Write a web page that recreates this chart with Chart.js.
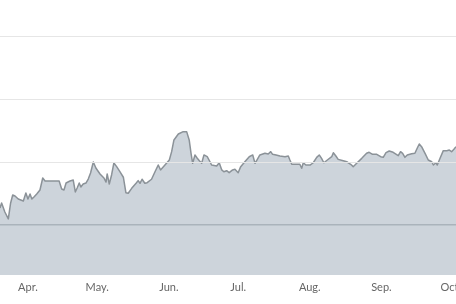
<!DOCTYPE html>
<html>
<head>
<meta charset="utf-8">
<script src="https://cdn.jsdelivr.net/npm/chart.js@4/dist/chart.umd.min.js"></script>
<style>
  html, body { margin: 0; padding: 0; background: #fff; }
  #wrap { width: 456px; height: 304px; }
</style>
</head>
<body>
<div id="wrap"><canvas id="area"></canvas></div>
<script>
// days counted from Apr 1
const days = [
  -12.1, -11.4, -10.0, -8.5, -7.5, -6.6, -5.6, -4.2, -2.0, -0.9,
  0, 0.9, 1.7, 2.6, 3.8, 5.2, 6.4, 7.4, 9.5, 12.4,
  13.5, 14.6, 15.6, 16.5, 18.2, 19.6, 20.5, 21.3, 22.2, 22.9,
  23.9, 25.1, 26.1, 27.1, 28.3, 29.4, 31.2, 32.9, 33.8, 34.3,
  35.2, 36.2, 37.2, 38.4, 39.8, 41.3, 42.4, 43.4, 44.9, 46.8,
  47.7, 48.5, 49.4, 50.6, 51.6, 53.5, 55.0, 56.4, 57.4, 59.3,
  61.2, 62.2, 63.2, 65.1, 67.2, 68.7, 69.8, 70.6, 71.3, 72.3,
  73.3, 74.2, 75.2, 76.2, 77.6, 78.8, 79.5, 81.7, 82.8, 83.9,
  84.8, 86.0, 87.1, 88.6, 89.6, 91.0, 92.1, 93.9, 95.8, 97.3,
  98.3, 99.3, 100.4, 102.6, 104.0, 105.1, 105.9, 107.4, 109.1, 111.3,
  112.7, 113.4, 114.2, 116.3, 117.7, 118.5, 119.2, 120.3, 122.1, 123.5,
  125.0, 126.1, 127.1, 128.1, 129.6, 131.5, 132.2, 133.3, 134.3, 136.5,
  138.0, 139.7, 140.8, 142.3, 144.5, 146.6, 147.7, 149.2, 151.0, 152.7,
  153.8, 155.0, 156.4, 158.1, 160.3, 161.3, 162.2, 163.2, 164.2, 166.1,
  167.5, 168.5, 169.4, 170.4, 171.9, 173.3, 174.8, 175.5, 176.6, 177.2,
  178.4, 179.8, 181.3, 182.4, 183.4, 184.4, 185.3
];
const values = [
  63.5, 67.5, 60.3, 54.8, 67.5, 73.8, 73.0, 70.6, 69.1, 75.4,
  70.6, 74.6, 70.6, 72.2, 74.6, 77.8, 87.3, 84.9, 84.9, 84.9,
  84.9, 78.6, 77.8, 83.3, 84.9, 85.7, 76.2, 79.4, 83.3, 80.2,
  82.5, 83.3, 86.5, 91.3, 100.0, 95.2, 90.5, 87.3, 84.1, 90.5,
  82.5, 89.7, 99.2, 96.3, 92.3, 87.9, 75.6, 75.2, 79.1, 83.1,
  85.2, 83.1, 86.3, 83.1, 83.6, 86.3, 92.3, 97.6, 93.7, 97.6,
  101.6, 108.2, 117.5, 122.2, 124.1, 124.1, 117.5, 106.9, 99.0, 105.6,
  103.0, 101.0, 99.0, 105.6, 104.2, 100.2, 97.6, 96.8, 99.4, 93.7,
  92.3, 93.1, 91.5, 93.7, 94.2, 91.5, 96.3, 100.2, 104.2, 105.6,
  99.0, 102.1, 105.6, 106.9, 106.4, 108.2, 106.1, 105.6, 104.8, 104.2,
  104.8, 101.6, 98.2, 98.2, 98.2, 95.0, 99.4, 97.6, 97.6, 99.4,
  103.7, 105.6, 102.9, 99.4, 101.6, 104.2, 107.4, 104.8, 102.1, 101.0,
  100.2, 98.2, 96.3, 99.0, 102.9, 106.9, 107.7, 106.1, 106.1, 104.2,
  103.7, 107.4, 108.7, 107.7, 105.0, 108.2, 106.9, 103.7, 105.6, 106.6,
  106.9, 110.9, 114.3, 112.2, 106.9, 101.6, 100.2, 97.6, 99.4, 97.6,
  103.0, 109.0, 109.0, 109.5, 108.2, 110.1, 112.2
];
const tickDays = [0, 30, 61, 91, 122, 153, 183];
const tickLabels = ['Apr.', 'May.', 'Jun.', 'Jul.', 'Aug.', 'Sep.', 'Oct.'];
const gridValues = [50, 100, 150, 200];

const points = days.map((d, i) => ({x: d, y: values[i]}));

new Chart(document.getElementById('area').getContext('2d'), {
  type: 'line',
  data: {
    datasets: [{
      data: points,
      borderColor: '#8b9298',
      backgroundColor: '#cdd4db',
      borderWidth: 1.5,
      borderJoinStyle: 'round',
      pointRadius: 0,
      tension: 0,
      fill: 'start',
    }],
  },
  options: {
    responsive: true,
    maintainAspectRatio: false,
    animation: false,
    layout: { padding: 0 },
    plugins: { legend: { display: false }, tooltip: { enabled: false } },
    scales: {
      x: {
        type: 'linear',
        min: -12.1,
        max: 185.3,
        grid: { display: false, drawTicks: false },
        border: { display: false },
        afterBuildTicks: axis => { axis.ticks = tickDays.map(v => ({value: v})); },
        afterFit: axis => { axis.height = 29; axis.paddingLeft = 0; axis.paddingRight = 0; },
        ticks: {
          autoSkip: false,
          maxRotation: 0,
          padding: 6,
          color: '#666666',
          font: { family: 'Lato', size: 11 },
          callback: (value, index) => tickLabels[index],
        },
      },
      y: {
        min: 10.3,
        max: 228.6,
        border: { display: false },
        afterBuildTicks: axis => { axis.ticks = gridValues.map(v => ({value: v})); },
        afterFit: axis => { axis.width = 0; },
        grid: {
          z: 1,
          drawTicks: false,
          lineWidth: ctx => ctx.index === 0 ? 1.5 : 1,
          color: ctx => ctx.index === 0 ? '#aab3bb' : '#e6e6e6',
        },
        ticks: { display: false },
      },
    },
  },
});
</script>
</body>
</html>
